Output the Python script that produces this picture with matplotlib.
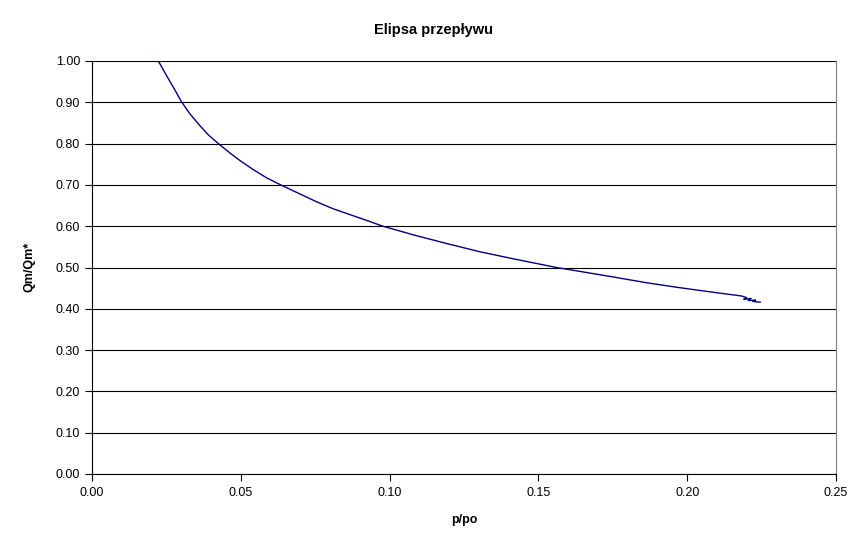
import matplotlib
matplotlib.use("Agg")
import matplotlib.pyplot as plt

plt.rcParams['font.family'] = ['Liberation Sans', 'DejaVu Sans']

p_po = [0.0223, 0.0251, 0.0276, 0.0301, 0.0329, 0.0363, 0.0391, 0.0428, 0.0464, 0.0497,
        0.0542, 0.0587, 0.0637, 0.0699, 0.0755, 0.0811, 0.0867, 0.0923, 0.0975,
        0.1080, 0.1192, 0.1304, 0.1416, 0.1561, 0.1640, 0.1752, 0.1864, 0.1976, 0.2088,
        0.2183, 0.2200, 0.2190, 0.2215, 0.2205, 0.2230, 0.2220, 0.2245]
qm_ratio = [1.000, 0.964, 0.933, 0.901, 0.872, 0.843, 0.821, 0.798, 0.777, 0.759,
            0.737, 0.717, 0.699, 0.678, 0.659, 0.642, 0.628, 0.614, 0.6005,
            0.579, 0.558, 0.538, 0.521, 0.500, 0.4905, 0.477, 0.463, 0.451, 0.440,
            0.431, 0.427, 0.423, 0.425, 0.420, 0.421, 0.418, 0.416]

x_ticks = [0.00, 0.05, 0.10, 0.15, 0.20, 0.25]
y_ticks = [0.0, 0.1, 0.2, 0.3, 0.4, 0.5, 0.6, 0.7, 0.8, 0.9, 1.0]

fig = plt.figure(figsize=(8.66, 5.48), dpi=100)
ax = fig.add_axes([92/866, 1-474/548, (836-92)/866, (474-61)/548])

ax.plot(p_po, qm_ratio, color='#000080', linewidth=1.0)

ax.set_xlim(0, 0.25)
ax.set_ylim(0, 1.0)
ax.set_xticks(x_ticks)
ax.set_xticklabels([f"{v:.2f}" for v in x_ticks])
ax.set_yticks(y_ticks)
ax.set_yticklabels([f"{v:.2f}" for v in y_ticks])
ax.tick_params(axis='both', direction='out', length=5, width=0.8, labelsize=9, colors='black')
ax.tick_params(axis='x', pad=4)
ax.yaxis.grid(True, color='black', linewidth=0.8)
ax.set_axisbelow(True)

ax.spines['top'].set_visible(False)
ax.spines['right'].set_color('#808080')
ax.spines['right'].set_linewidth(0.8)
ax.spines['left'].set_linewidth(0.8)
ax.spines['bottom'].set_linewidth(0.8)

fig.text(0.5, 1-30/548, "Elipsa przepływu", ha='center', va='center', fontsize=10.5, fontweight='bold')
fig.text(464/866, 1-520/548, "p/po", ha='center', va='center', fontsize=9, fontweight='bold')
fig.text(30/866, 1-267/548, "Qm/Qm*", ha='center', va='center', fontsize=9, fontweight='bold', rotation=90)

fig.savefig("out.png", dpi=100)
